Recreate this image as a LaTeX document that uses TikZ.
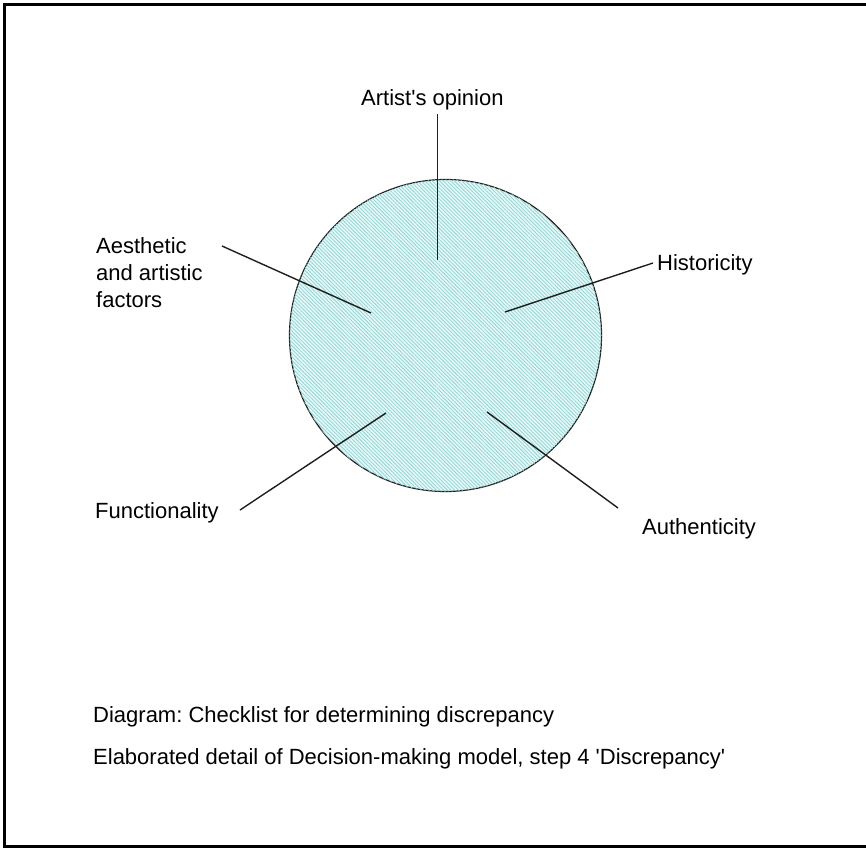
\documentclass[tikz,border=0pt]{standalone}
\usepackage{fontspec}
\setmainfont{Liberation Sans}
\usetikzlibrary{patterns.meta}
\definecolor{hatchbg}{RGB}{226,250,250}
\definecolor{hatchln}{RGB}{150,208,208}
\frenchspacing
\tikzset{
  lbl/.style={inner sep=0pt, font=\fontsize{22}{27}\selectfont},
  spoke/.style={line width=1.4pt, draw=black!88},
  frameline/.style={line width=2.5pt, draw=black},
  disc/.style={circle, minimum size=312pt, inner sep=0pt, draw=black!88, line width=1.2pt,
    fill=hatchbg,
    postaction={pattern={Lines[angle=-45,distance=2.6pt,line width=0.75pt]}, pattern color=hatchln}},
}
\begin{document}
\begin{tikzpicture}[x=1pt,y=-1pt]
\useasboundingbox (0,0) rectangle (866,848);
\draw[frameline] (880,4.5) -- (4.5,4.5) -- (4.5,846.5) -- (880,846.5);

\node[disc] (disc) at (445.5,335.5) {};

\node[lbl, anchor=base west] (artist) at (361,106) {Artist\textquotesingle s opinion};
\node[lbl, anchor=north west, align=left] (aesth) at (96,237) {Aesthetic\\and artistic\\factors};
\node[lbl, anchor=base west] (hist) at (657,270) {Historicity};
\node[lbl, anchor=base west] (auth) at (642,534) {Authenticity};
\node[lbl, anchor=base west] (func) at (95,518) {Functionality};
\node[lbl, anchor=base west] (cap1) at (93,722) {Diagram: Checklist for determining discrepancy};
\node[lbl, anchor=base west] (cap2) at (93,764) {Elaborated detail of Decision-making model, step 4 \textquotesingle Discrepancy\textquotesingle};

\coordinate (artOut) at (437.7,114);
\coordinate (artIn) at (437.7,260);
\coordinate (aesOut) at (222,246);
\coordinate (aesIn) at (371,313);
\coordinate (hisOut) at (653,263);
\coordinate (hisIn) at (505,312);
\coordinate (autOut) at (618,508);
\coordinate (autIn) at (487,412);
\coordinate (funOut) at (240,510);
\coordinate (funIn) at (386,413);

\draw[spoke] (artOut) -- (artIn);
\draw[spoke] (aesOut) -- (aesIn);
\draw[spoke] (hisOut) -- (hisIn);
\draw[spoke] (autOut) -- (autIn);
\draw[spoke] (funOut) -- (funIn);
\end{tikzpicture}
\end{document}
